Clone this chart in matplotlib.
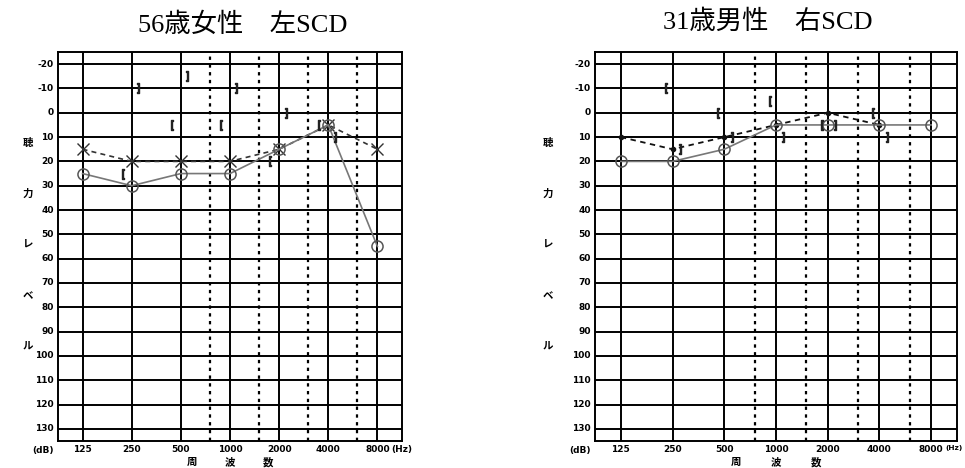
import numpy as np
import matplotlib.pyplot as plt

plt.rcParams['font.family'] = ['DejaVu Sans', 'Noto Sans CJK JP']

freqs = [125, 250, 500, 1000, 2000, 4000, 8000]
half_octaves = [750, 1500, 3000, 6000]
yticks = list(range(-20, 140, 10))

# left chart: 56歳女性 左SCD
left_title = "56歳女性　左SCD"
left_air_o = [25, 30, 25, 25, 15, 5, 55]
left_air_x = [15, 20, 20, 20, 15, 5, 15]
left_bone_open = [None, 25, 5, 5, 20, 5, None]      # "["
left_bone_close = [None, -10, -15, -10, 0, 10, None]  # "]"

# right chart: 31歳男性 右SCD
right_title = "31歳男性　右SCD"
right_air_o = [20, 20, 15, 5, 5, 5, 5]
right_air_dot = [10, 15, 10, 5, 0, 5, None]
right_bone_open = [None, -10, 0, -5, 5, 0, None]
right_bone_close = [None, 15, 10, 10, 5, 10, None]

fig = plt.figure(figsize=(9.65, 4.68), dpi=100)


def pick(vals, shift):
    xs, ys = [], []
    for f, v in zip(freqs, vals):
        if v is not None:
            xs.append(f * 2 ** shift)
            ys.append(v)
    return xs, ys


def audiogram(rect, title, title_x, title_y, ylab_x, o_vals, dash_vals,
              dash_marker, bo, bc, shift_o, shift_c, hz_size):
    ax = fig.add_axes(rect)
    ax.set_xscale('log', base=2)
    ax.set_xlim(125 / np.sqrt(2), 8000 * np.sqrt(2))
    ax.set_ylim(135, -25)
    for y in yticks:
        ax.axhline(y, color='black', lw=1.4, zorder=1)
    for f in freqs:
        ax.axvline(f, color='black', lw=1.4, zorder=1)
    for f in half_octaves:
        ax.axvline(f, color='black', lw=1.6, ls=(0, (1.5, 2.0)), zorder=1)
    ax.set_xticks([])
    ax.set_yticks([])
    for s in ax.spines.values():
        s.set_linewidth(1.4)

    for y in yticks:
        ax.text(-0.012, (135 - y) / 160, str(y), transform=ax.transAxes,
                ha='right', va='center', fontsize=6.5, fontweight='bold')
    ax.text(-0.012, -0.012, "(dB)", transform=ax.transAxes, ha='right',
            va='top', fontsize=6.5, fontweight='bold')
    for f in freqs:
        ax.text(f, 136.5, str(f), ha='center', va='top', fontsize=6.5,
                fontweight='bold')
    ax.text(8000 * 2 ** 0.28, 136.5, "(Hz)", ha='left', va='top',
            fontsize=hz_size, fontweight='bold')
    for f, ch in zip([1000 / 1.7, 1000, 1000 * 1.7], "周波数"):
        ax.text(f, 141.5, ch, ha='center', va='top', fontsize=7.5,
                fontweight='bold')
    for i, ch in enumerate("聴力レベル"):
        fig.text(ylab_x, 1 - (143 + 51 * i) / 468, ch, ha='center',
                 va='center', fontsize=7.5, fontweight='bold')

    fig.text(title_x, 1 - title_y / 468, title, ha='center', va='center',
             fontsize=19, family=['Liberation Serif', 'Noto Sans CJK JP'])

    xd, yd = pick(dash_vals, 0)
    if dash_marker == 'x':
        ax.plot(xd, yd, color='#333333', ls=(0, (3, 2.5)), lw=1.2,
                marker='x', ms=9, mew=1.0, zorder=3)
    else:
        ax.plot(xd, yd, color='#111111', ls=(0, (3, 2.5)), lw=1.3,
                marker='o', ms=3, zorder=3)
    xo, yo = pick(o_vals, 0)
    ax.plot(xo, yo, color='#777777', lw=1.2, marker='o', ms=8, mfc='none',
            mec='#555555', mew=1.1, zorder=4)

    xb, yb = pick(bo, shift_o)
    ax.plot(xb, yb, ls='none', marker='$[$', ms=7, color='#222222', zorder=5)
    xb, yb = pick(bc, shift_c)
    ax.plot(xb, yb, ls='none', marker='$]$', ms=7, color='#222222', zorder=5)
    return ax


audiogram([58 / 965, 1 - 441 / 468, 344 / 965, 389 / 468], left_title,
          243 / 965, 25, 28 / 965, left_air_o, left_air_x, 'x',
          left_bone_open, left_bone_close, -0.18, 0.13, 6.5)
audiogram([595 / 965, 1 - 441 / 468, 362 / 965, 389 / 468], right_title,
          768 / 965, 22, 548 / 965, right_air_o, right_air_dot, 'dot',
          right_bone_open, right_bone_close, -0.12, 0.14, 5.3)

fig.savefig('out.png', dpi=100)
